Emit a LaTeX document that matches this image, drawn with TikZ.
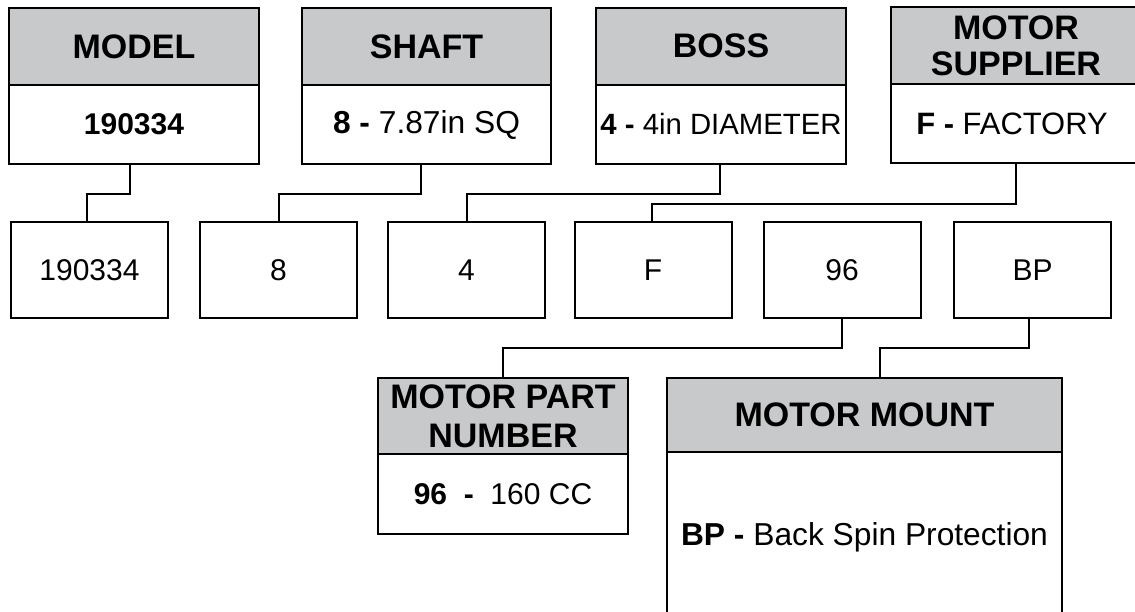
\documentclass[tikz,border=0pt]{standalone}
\usepackage{fontspec}
\setmainfont{Liberation Sans}
\usetikzlibrary{calc}
\definecolor{hgray}{RGB}{200,201,203}
\def\u{0.75pt}
\tikzset{
  box/.style={draw=black, line width=1.5pt, inner sep=0pt, align=center, anchor=center},
  hdr/.style={box, fill=hgray, font=\bfseries\fontsize{25.5}{29}\selectfont},
  bod/.style={box, fill=white, font=\fontsize{22.5}{27}\selectfont},
  code/.style={box, fill=white, font=\fontsize{22.5}{27}\selectfont,
    minimum width=157*\u, minimum height=96*\u},
  conn/.style={draw=black, line width=1.5pt}
}
\begin{document}
\begin{tikzpicture}[x=0.75pt,y=-0.75pt]
\useasboundingbox (0,0) rectangle (1135,611);
% top boxes
\node[hdr, minimum width=250*\u, minimum height=77*\u] (modelh) at (134,46.5) {MODEL};
\node[bod, minimum width=250*\u, minimum height=79*\u] (modelb) at (134,124.5) {\textbf{190334}};
\node[hdr, minimum width=249*\u, minimum height=77*\u] (shafth) at (426.5,46.5) {SHAFT};
\node[bod, minimum width=249*\u, minimum height=79*\u, font=\fontsize{23.8}{28}\selectfont] (shaftb) at (426.5,124.5) {\textbf{8 -} 7.87in SQ};
\node[hdr, minimum width=250*\u, minimum height=77*\u] (bossh) at (721,46) {BOSS};
\node[bod, minimum width=250*\u, minimum height=79*\u, font=\fontsize{22}{27}\selectfont] (bossb) at (721,124) {\textbf{4 -} 4in DIAMETER};
\node[hdr, minimum width=250*\u, minimum height=77*\u] (supph) at (1016,45.5) {MOTOR\\[-2pt]SUPPLIER};
\node[bod, minimum width=250*\u, minimum height=79*\u, font=\fontsize{23.2}{28}\selectfont] (suppb) at (1016,123.5) {\textbf{F -} FACTORY\hspace*{6pt}};
% code row
\node[code] (c1) at (89.5,270) {190334};
\node[code] (c2) at (278.5,270) {8};
\node[code] (c3) at (466.5,270) {4};
\node[code] (c4) at (653,270) {F};
\node[code] (c5) at (842,270) {96};
\node[code] (c6) at (1032.5,270) {BP};
% lower boxes
\node[hdr, minimum width=250*\u, minimum height=76*\u] (mpnh) at (503,416) {MOTOR PART\\[0pt]NUMBER};
\node[bod, minimum width=250*\u, minimum height=80*\u] (mpnb) at (503,494) {\textbf{96\ \ -}\ \ 160 CC};
\node[hdr, minimum width=395*\u, minimum height=74*\u] (mmh) at (864.5,415) {MOTOR MOUNT};
\node[bod, minimum width=395*\u, minimum height=170*\u, font=\fontsize{23.8}{28}\selectfont] (mmb) at (864.5,537) {\textbf{BP -} Back Spin Protection};
% connectors
\draw[conn] ([xshift=-3pt]modelb.south) -- ++(0,29) -| ([xshift=-2pt]c1.north);
\draw[conn] ([xshift=-4.5pt]shaftb.south) -- ++(0,29) -| (c2.north);
\draw[conn] ([xshift=-0.75pt]bossb.south) -- ++(0,29) -| (c3.north);
\draw[conn] (suppb.south) -- ++(0,40) -| ([xshift=-0.75pt]c4.north);
\draw[conn] (c5.south) -- ++(0,29) -| (mpnh.north);
\draw[conn] ([xshift=-2.6pt]c6.south) -- ++(0,29) -| ([xshift=11.6pt]mmh.north);
\end{tikzpicture}
\end{document}
